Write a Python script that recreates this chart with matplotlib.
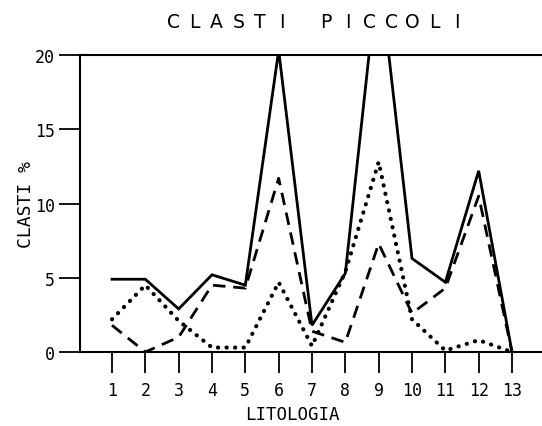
import numpy as np
import matplotlib
matplotlib.use("Agg")
import matplotlib.pyplot as plt

# litologie 1..13
litologia = list(range(1, 14))

# percentuali di clasti piccoli per le tre serie
solida = [4.9, 4.9, 2.9, 5.2, 4.5, 20.3, 1.8, 5.3, 26.0, 6.3, 4.7, 12.2, 0.0]
tratteggiata = [1.8, 0.0, 1.0, 4.5, 4.3, 11.7, 1.4, 0.65, 7.3, 2.6, 4.3, 10.5, 0.0]
punteggiata = [2.2, 4.5, 2.1, 0.3, 0.3, 4.7, 0.4, 5.4, 12.8, 2.2, 0.1, 0.8, 0.0]

yticks = [0, 5, 10, 15, 20]
titolo = "CLASTI PICCOLI"

font = "DejaVu Sans Mono"

fig = plt.figure(figsize=(5.42, 4.27), dpi=100)
ax = fig.add_axes([80 / 542, 74 / 427, 1 - 80 / 542, 297 / 427])

ax.plot(litologia, solida, color="black", lw=2.0, solid_joinstyle="miter")
ax.plot(litologia, tratteggiata, color="black", lw=2.0, linestyle=(0, (4.5, 2.8)))
ax.plot(litologia, punteggiata, color="black", lw=3.0,
        linestyle=(0, (0.05, 2.0)), dash_capstyle="round")

ax.set_xlim(0.04, 13.9)
ax.set_ylim(0, 20)

ax.set_xticks(litologia)
ax.set_xticklabels([str(v) for v in litologia], fontfamily=font, fontsize=12)
ax.set_yticks(yticks)
ax.set_yticklabels([str(v) for v in yticks], fontfamily=font, fontsize=12)
ax.tick_params(axis="x", direction="out", length=15, width=1.3, pad=6)
ax.tick_params(axis="y", direction="out", length=15, width=1.3, pad=3)

for side in ["left", "top", "bottom"]:
    ax.spines[side].set_linewidth(1.5)
ax.spines["right"].set_visible(False)

ax.set_xlabel("LITOLOGIA", fontfamily=font, fontsize=12.5)
ax.xaxis.set_label_coords((292 - 80) / 462, -0.178)
ax.set_ylabel("CLASTI %", fontfamily=font, fontsize=13)
ax.yaxis.set_label_coords(-0.098, 0.5)

# titolo con lettere spaziate
passo = 21.8 / 542
x0 = 173 / 542
for i, ch in enumerate(titolo):
    if ch != " ":
        fig.text(x0 + i * passo, 1 - 22 / 427, ch, ha="center", va="center",
                 fontfamily="DejaVu Sans", fontsize=13.5)

fig.savefig("out.png", dpi=100)
